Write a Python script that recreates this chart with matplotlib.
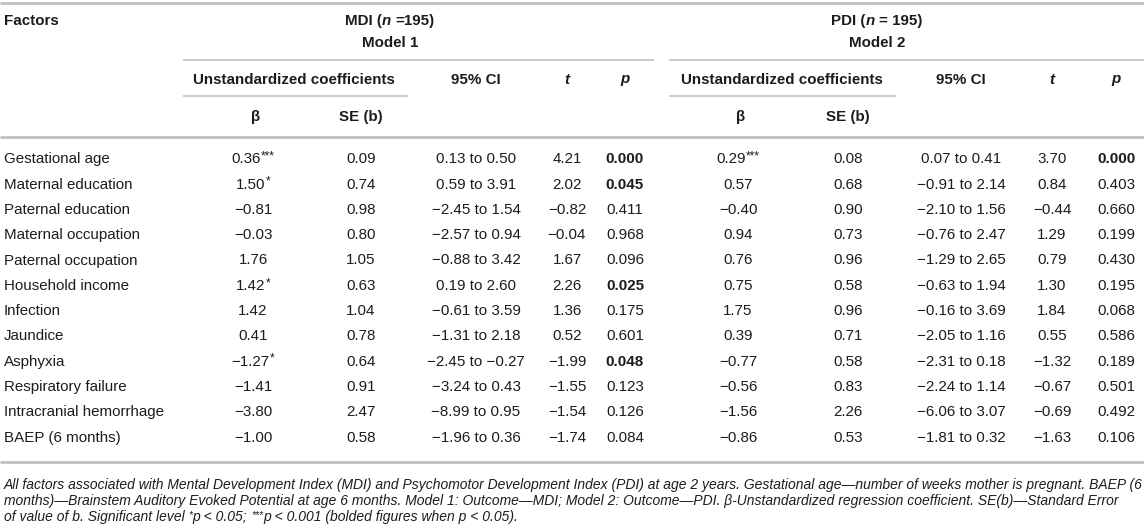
import matplotlib
matplotlib.use("Agg")
import matplotlib.pyplot as plt
from matplotlib import font_manager

# ---------------- data ----------------
factors = ["Gestational age", "Maternal education", "Paternal education",
           "Maternal occupation", "Paternal occupation", "Household income",
           "Infection", "Jaundice", "Asphyxia", "Respiratory failure",
           "Intracranial hemorrhage", "BAEP (6 months)"]

mdi_beta = [0.36, 1.50, -0.81, -0.03, 1.76, 1.42, 1.42, 0.41, -1.27, -1.41, -3.80, -1.00]
mdi_se = [0.09, 0.74, 0.98, 0.80, 1.05, 0.63, 1.04, 0.78, 0.64, 0.91, 2.47, 0.58]
mdi_ci_low = [0.13, 0.59, -2.45, -2.57, -0.88, 0.19, -0.61, -1.31, -2.45, -3.24, -8.99, -1.96]
mdi_ci_high = [0.50, 3.91, 1.54, 0.94, 3.42, 2.60, 3.59, 2.18, -0.27, 0.43, 0.95, 0.36]
mdi_t = [4.21, 2.02, -0.82, -0.04, 1.67, 2.26, 1.36, 0.52, -1.99, -1.55, -1.54, -1.74]
mdi_p = [0.000, 0.045, 0.411, 0.968, 0.096, 0.025, 0.175, 0.601, 0.048, 0.123, 0.126, 0.084]

pdi_beta = [0.29, 0.57, -0.40, 0.94, 0.76, 0.75, 1.75, 0.39, -0.77, -0.56, -1.56, -0.86]
pdi_se = [0.08, 0.68, 0.90, 0.73, 0.96, 0.58, 0.96, 0.71, 0.58, 0.83, 2.26, 0.53]
pdi_ci_low = [0.07, -0.91, -2.10, -0.76, -1.29, -0.63, -0.16, -2.05, -2.31, -2.24, -6.06, -1.81]
pdi_ci_high = [0.41, 2.14, 1.56, 2.47, 2.65, 1.94, 3.69, 1.16, 0.18, 1.14, 3.07, 0.32]
pdi_t = [3.70, 0.84, -0.44, 1.29, 0.79, 1.30, 1.84, 0.55, -1.32, -0.67, -0.69, -1.63]
pdi_p = [0.000, 0.403, 0.660, 0.199, 0.430, 0.195, 0.068, 0.586, 0.189, 0.501, 0.492, 0.106]

footnote_lines = [
    "All factors associated with Mental Development Index (MDI) and Psychomotor Development Index (PDI) at age 2 years. Gestational age\u2014number of weeks mother is pregnant. BAEP (6",
    "months)\u2014Brainstem Auditory Evoked Potential at age 6 months. Model 1: Outcome\u2014MDI; Model 2: Outcome\u2014PDI. \u03b2-Unstandardized regression coefficient. SE(b)\u2014Standard Error",
]

# ---------------- style ----------------
FONT = "Liberation Sans"
available = {f.name for f in font_manager.fontManager.ttflist}
NOTE_FONT = "Liberation Sans Narrow" if "Liberation Sans Narrow" in available else FONT
TEXT = "#1c1c1c"
LINE = "#bdbdbd"
FS = 10.9
W, H = 1144, 524

fig = plt.figure(figsize=(W / 100, H / 100), dpi=100)
ax = fig.add_axes([0, 0, 1, 1])
ax.set_xlim(0, W)
ax.set_ylim(H, 0)
ax.axis("off")
renderer = fig.canvas.get_renderer()


def measure(txt, fam=FONT, **kw):
    t = ax.text(0, 0, txt, fontfamily=fam, **kw)
    w = t.get_window_extent(renderer).width
    t.remove()
    return w


def adv(txt, fam=FONT, **kw):
    return measure("x" + txt + "x", fam, **kw) - measure("xx", fam, **kw)


def pieces(x, y, items, ha="center", color=TEXT, fam=FONT):
    """items: list of (text, kwargs, dy); y is baseline."""
    widths = [adv(t, fam, **kw) for t, kw, dy in items]
    total = sum(widths)
    if ha == "center":
        x0 = x - total / 2
    elif ha == "left":
        x0 = x
    else:
        x0 = x - total
    for (t, kw, dy), w in zip(items, widths):
        lead = len(t) - len(t.lstrip(" "))
        s = t.strip(" ")
        off = adv(" " * lead, fam, **kw) if lead else 0
        if s:
            ax.text(x0 + off, y + dy, s, fontfamily=fam, va="baseline",
                    ha="left", color=color, **kw)
        x0 += w


def fmt(v, nd=2):
    s = f"{abs(v):.{nd}f}"
    return ("\u2212" + s) if v < 0 else s


def stars(p):
    if p < 0.001:
        return "***"
    if p < 0.05:
        return "*"
    return ""


B = dict(fontsize=FS, fontweight="bold")
N = dict(fontsize=FS)
BI = dict(fontsize=FS, fontweight="bold", fontstyle="italic")

# ---------------- rules ----------------
ax.plot([0, W], [3, 3], color=LINE, lw=1.9, solid_capstyle="butt")
ax.plot([183, 654], [59.5, 59.5], color=LINE, lw=1.1, solid_capstyle="butt")
ax.plot([669, W], [59.5, 59.5], color=LINE, lw=1.1, solid_capstyle="butt")
ax.plot([183, 408], [95.5, 95.5], color=LINE, lw=1.1, solid_capstyle="butt")
ax.plot([669, 896], [95.5, 95.5], color=LINE, lw=1.1, solid_capstyle="butt")
ax.plot([0, W], [136.5, 136.5], color=LINE, lw=1.9, solid_capstyle="butt")
ax.plot([0, W], [462, 462], color=LINE, lw=1.9, solid_capstyle="butt")

# ---------------- header ----------------
groups = [
    dict(name="MDI", n=" =195)", model="Model 1", center=390, unstd=294,
         beta=256, bcol=253, se=361, ci=476, t=567, p=625,
         b=mdi_beta, s=mdi_se, lo=mdi_ci_low, hi=mdi_ci_high, tv=mdi_t, pv=mdi_p),
    dict(name="PDI", n=" = 195)", model="Model 2", center=877, unstd=782,
         beta=741, bcol=738, se=848, ci=961, t=1052, p=1116,
         b=pdi_beta, s=pdi_se, lo=pdi_ci_low, hi=pdi_ci_high, tv=pdi_t, pv=pdi_p),
]

pieces(4, 25, [("Factors", B, 0)], ha="left")
for g in groups:
    pieces(g["center"], 25, [(g["name"] + " (", B, 0), ("n", BI, 0), (g["n"], B, 0)])
    pieces(g["center"], 47, [(g["model"], B, 0)])
    pieces(g["unstd"], 83.5, [("Unstandardized coefficients", B, 0)])
    pieces(g["ci"], 83.5, [("95% CI", B, 0)])
    pieces(g["t"], 83.5, [("t", BI, 0)])
    pieces(g["p"], 83.5, [("p", BI, 0)])
    pieces(g["beta"], 121.5, [("\u03b2", B, 0)])
    pieces(g["se"], 121.5, [("SE (b)", B, 0)])

# ---------------- body ----------------
row0, dy_row = 163.3, 25.3
SUP = dict(fontsize=FS * 0.78)
for i, f in enumerate(factors):
    y = row0 + i * dy_row
    pieces(4, y, [(f, N, 0)], ha="left")
    for g in groups:
        st = stars(g["pv"][i])
        items = [(fmt(g["b"][i]), N, 0)]
        if st:
            items.append((st, SUP, -3.8))
        pieces(g["bcol"], y, items)
        pieces(g["se"], y, [(fmt(g["s"][i]), N, 0)])
        pieces(g["ci"], y, [(fmt(g["lo"][i]) + " to " + fmt(g["hi"][i]), N, 0)])
        pieces(g["t"], y, [(fmt(g["tv"][i]), N, 0)])
        pw = B if g["pv"][i] < 0.05 else N
        pieces(g["p"], y, [(fmt(g["pv"][i], 3), pw, 0)])

# ---------------- footnote ----------------
IT0 = dict(fontsize=10, fontstyle="italic")
w0 = adv(footnote_lines[0], NOTE_FONT, **IT0)
fs_note = min(10 * 1136 / w0, 10.5)
IT = dict(fontsize=fs_note, fontstyle="italic")
ITS = dict(fontsize=fs_note * 0.75, fontstyle="italic")
pieces(4, 488.5, [(footnote_lines[0], IT, 0)], ha="left", fam=NOTE_FONT)
pieces(4, 505, [(footnote_lines[1], IT, 0)], ha="left", fam=NOTE_FONT)
pieces(4, 521.5, [
    ("of value of b. Significant level ", IT, 0),
    ("*", ITS, -3.5),
    ("p < 0.05; ", IT, 0),
    ("***", ITS, -3.5),
    ("p < 0.001 (bolded figures when p < 0.05).", IT, 0),
], ha="left", fam=NOTE_FONT)

fig.savefig("out.png", dpi=100)
